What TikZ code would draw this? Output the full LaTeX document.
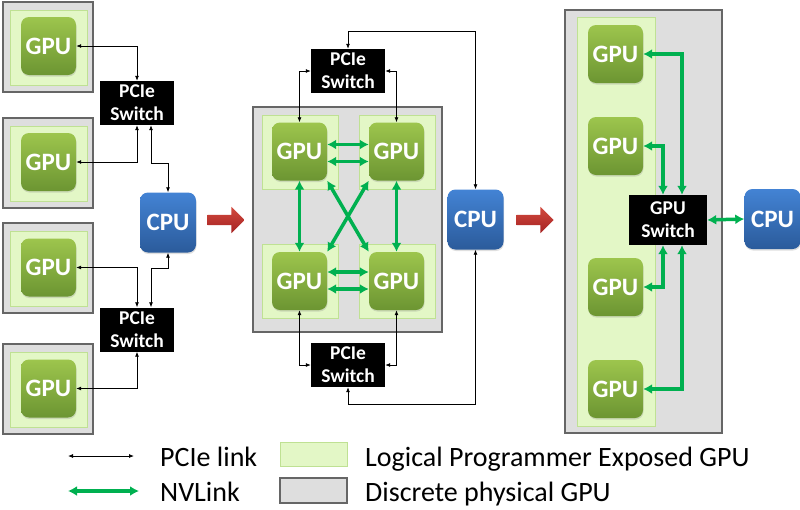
\documentclass[tikz,border=0pt]{standalone}
\usepackage{fontspec}
\setmainfont{Carlito}
\usepackage{tikz}
\usepackage{xcolor}
\usetikzlibrary{positioning,arrows.meta,shapes.arrows,shadows}
\definecolor{gpuTop}{HTML}{9DC54D}
\definecolor{gpuBot}{HTML}{6C9532}
\definecolor{cpuTop}{HTML}{4383D4}
\definecolor{cpuBot}{HTML}{2B5B9B}
\definecolor{lgFill}{HTML}{E3F7C6}
\definecolor{lgEdge}{HTML}{BFE193}
\definecolor{dgFill}{HTML}{DEDEDE}
\definecolor{dgEdge}{HTML}{666666}
\definecolor{nvGreen}{HTML}{00B050}
\definecolor{redTop}{HTML}{D24A3E}
\definecolor{redBot}{HTML}{A52222}

\begin{document}
\begin{tikzpicture}[x=1pt,y=-1pt,
    gpu/.style={rounded corners=8pt, top color=gpuTop, bottom color=gpuBot, text=white,
        font=\fontsize{25}{30}\selectfont\bfseries, minimum width=55pt, minimum height=58pt, inner sep=0pt,
        drop shadow={opacity=0.25, shadow xshift=0.5pt, shadow yshift=-1.5pt}},
    cpu/.style={gpu, top color=cpuTop, bottom color=cpuBot, minimum width=56pt, minimum height=60pt},
    switch/.style={fill=black, text=white, align=center, inner sep=0pt,
        font=\fontsize{19.5}{23}\selectfont\bfseries, minimum width=74pt, minimum height=44pt},
    logical/.style={fill=lgFill, draw=lgEdge, line width=1pt, inner sep=0pt},
    discrete/.style={fill=dgFill, draw=dgEdge, line width=1.3pt, inner sep=0pt},
    pcie/.style={line width=0.8pt, {Latex[length=5pt,width=4pt]}-{Latex[length=5pt,width=4pt]}},
    nvlink/.style={draw=nvGreen, line width=3.5pt, {Latex[length=9pt,width=10pt]}-{Latex[length=9pt,width=10pt]}},
    move/.style={single arrow, single arrow head extend=8pt, inner sep=5pt, minimum height=37pt,
        top color=redTop, bottom color=redBot},
    legend/.style={font=\fontsize{28}{32}\selectfont, inner sep=0pt}]
    \useasboundingbox (0,0) rectangle (800,509);

    % Separate GPUs on PCIe
    \node[discrete, minimum width=90pt, minimum height=90pt] (dA) at (48,47) {};
    \node[logical, minimum width=77pt, minimum height=75pt] (lA) at (48.5,47.5) {};
    \node[gpu] (gA) at (48.5,46) {GPU};
    \node[discrete, minimum width=90pt, minimum height=90pt] (dB) at (48,163) {};
    \node[logical, minimum width=77pt, minimum height=75pt] (lB) at (48.5,163.5) {};
    \node[gpu] (gB) at (48.5,162) {GPU};
    \node[discrete, minimum width=90pt, minimum height=90pt] (dC) at (48,268) {};
    \node[logical, minimum width=77pt, minimum height=75pt] (lC) at (48.5,268.5) {};
    \node[gpu] (gC) at (48.5,267.5) {GPU};
    \node[discrete, minimum width=90pt, minimum height=90pt] (dD) at (48,389) {};
    \node[logical, minimum width=77pt, minimum height=75pt] (lD) at (48.5,389.5) {};
    \node[gpu] (gD) at (48.5,388.5) {GPU};
    \node[switch] (swA) at (137,103) {PCIe\\Switch};
    \node[switch] (swB) at (137,329.5) {PCIe\\Switch};
    \node[cpu] (cpuA) at (168,222.5) {CPU};
    \draw[pcie] (gA.east) -| (swA.north);
    \draw[pcie] (gB.east) -| (swA.south);
    \draw[pcie] (gC.east) -| (swB.north);
    \draw[pcie] (gD.east) -| (swB.south);
    \draw[pcie] ([xshift=14pt]swA.south) -- ++(0,38) -| (cpuA.north);
    \draw[pcie] ([xshift=14pt]swB.north) -- ++(0,-39) -| (cpuA.south);
    \node[move] (arrA) at (223.5,220) {};

    % Four GPUs with NVLink
    \node[discrete, minimum width=189pt, minimum height=225pt] (dM) at (347.5,219.5) {};
    \node[logical, minimum width=76pt, minimum height=74pt] (lTL) at (300,152) {};
    \node[logical, minimum width=76pt, minimum height=74pt] (lTR) at (397,152) {};
    \node[logical, minimum width=76pt, minimum height=74pt] (lBL) at (300,281) {};
    \node[logical, minimum width=76pt, minimum height=74pt] (lBR) at (397,281) {};
    \node[gpu] (gTL) at (299.5,151.5) {GPU};
    \node[gpu] (gTR) at (396.5,151.5) {GPU};
    \node[gpu] (gBL) at (299.5,281) {GPU};
    \node[gpu] (gBR) at (396.5,281) {GPU};
    \node[switch] (swT) at (348,71) {PCIe\\Switch};
    \node[switch] (swD) at (348,365) {PCIe\\Switch};
    \node[cpu] (cpuM) at (475.5,219.5) {CPU};
    \draw[nvlink] ([yshift=7pt]gTL.east) -- ([yshift=7pt]gTR.west);
    \draw[nvlink] ([yshift=-10pt]gTL.east) -- ([yshift=-10pt]gTR.west);
    \draw[nvlink] ([yshift=9pt]gBL.east) -- ([yshift=9pt]gBR.west);
    \draw[nvlink] ([yshift=-8pt]gBL.east) -- ([yshift=-8pt]gBR.west);
    \draw[nvlink] (gTL.south) -- (gBL.north);
    \draw[nvlink] (gTR.south) -- (gBR.north);
    \draw[nvlink] (gTL.south east) -- (gBR.north west);
    \draw[nvlink] (gTR.south west) -- (gBL.north east);
    \draw[pcie] (gTL.north) |- (swT.west);
    \draw[pcie] (gTR.north) |- (swT.east);
    \draw[pcie] (gBL.south) |- (swD.west);
    \draw[pcie] (gBR.south) |- (swD.east);
    \draw[pcie] (swT.north) -- ++(0,-17) -| (cpuM.north);
    \draw[pcie] (swD.south) -- ++(0,17) -| (cpuM.south);
    \node[move] (arrB) at (532.5,220) {};

    % One logical GPU behind a GPU switch
    \node[discrete, minimum width=157pt, minimum height=423pt] (dR) at (643.5,221.5) {};
    \node[logical, minimum width=78pt, minimum height=409pt] (lR) at (616,221.5) {};
    \node[gpu] (gR1) at (615.5,54) {GPU};
    \node[gpu] (gR2) at (615.5,146) {GPU};
    \node[gpu] (gR3) at (615.5,287) {GPU};
    \node[gpu] (gR4) at (615.5,389) {GPU};
    \node[switch, minimum width=78pt, minimum height=50pt] (swG) at (668,220) {GPU\\Switch};
    \node[cpu] (cpuR) at (772.5,219) {CPU};
    \draw[nvlink] (gR1.east) -| ([xshift=14pt]swG.north);
    \draw[nvlink] (gR2.east) -| ([xshift=-5pt]swG.north);
    \draw[nvlink] (gR3.east) -| ([xshift=-5pt]swG.south);
    \draw[nvlink] (gR4.east) -| ([xshift=14pt]swG.south);
    \draw[nvlink] (swG.east) -- (cpuR.west);

    % Legend
    \coordinate (lpA) at (68,456);
    \coordinate (lpB) at (134,456);
    \coordinate (lnA) at (68,491);
    \coordinate (lnB) at (139,491);
    \draw[pcie] (lpA) -- (lpB);
    \draw[nvlink, line width=4pt] (lnA) -- (lnB);
    \node[legend, anchor=base west] (txtP) at (160,466) {PCIe link};
    \node[legend, anchor=base west] (txtN) at (160,501) {NVLink};
    \node[logical, minimum width=67pt, minimum height=24pt] (keyL) at (313.5,454) {};
    \node[discrete, minimum width=67pt, minimum height=25pt] (keyD) at (313.5,490.5) {};
    \node[legend, anchor=base west] (txtL) at (365,466) {Logical Programmer Exposed GPU};
    \node[legend, anchor=base west] (txtD) at (365,501) {Discrete physical GPU};
\end{tikzpicture}
\end{document}
